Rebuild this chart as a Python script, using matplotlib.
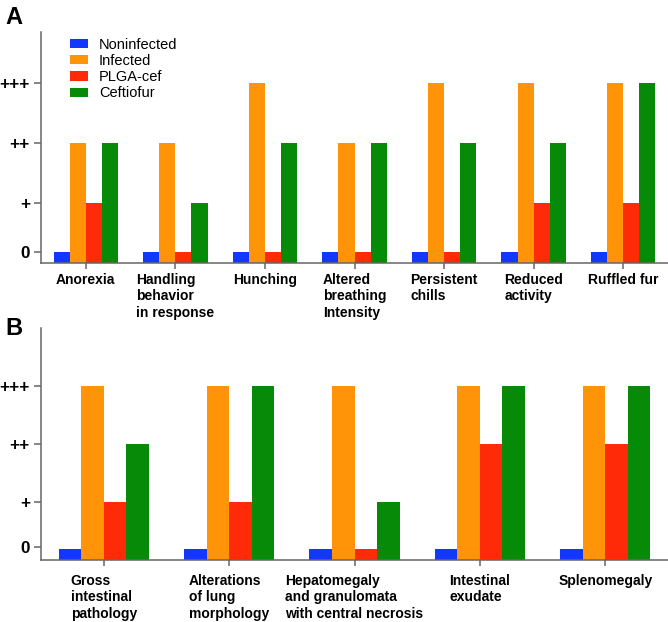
import matplotlib
matplotlib.use("Agg")
import matplotlib.pyplot as plt
import numpy as np

plt.rcParams['font.family'] = ['Liberation Sans', 'DejaVu Sans']

# dados
series = ['Noninfected', 'Infected', 'PLGA-cef', 'Ceftiofur']
colors = ['#1238ff', '#ff9408', '#ff2a08', '#068a08']

cats_a = ['Anorexia', 'Handling\nbehavior\nin response', 'Hunching',
          'Altered\nbreathing\nIntensity', 'Persistent\nchills',
          'Reduced\nactivity', 'Ruffled fur']
noninf_a = [0, 0, 0, 0, 0, 0, 0]
infected_a = [2, 2, 3, 2, 3, 3, 3]
plga_a = [1, 0, 0, 0, 0, 1, 1]
ceft_a = [2, 1, 2, 2, 2, 2, 3]

cats_b = ['Gross\nintestinal\npathology', 'Alterations\nof lung\nmorphology',
          'Hepatomegaly\nand granulomata\nwith central necrosis',
          'Intestinal\nexudate', 'Splenomegaly']
noninf_b = [0, 0, 0, 0, 0]
infected_b = [3, 3, 3, 3, 3]
plga_b = [1, 1, 0, 2, 2]
ceft_b = [2, 3, 1, 3, 3]

score_labels = ['0', '+', '++', '+++']

ZERO_STUB = 0.19  # barras de escore 0 aparecem como um toco
W = 0.18

fig = plt.figure(figsize=(6.68, 6.22), dpi=100)
ax_a = fig.add_axes([41/668, 1 - 263/622, 627/668, 231/622])
ax_b = fig.add_axes([41/668, 1 - 560/622, 627/668, 232/622])


def draw(ax, cats, data, ytop, zero_tick, label_pad):
    x = np.arange(len(cats))
    for i, (vals, c, name) in enumerate(zip(data, colors, series)):
        v = np.array(vals, dtype=float)
        h = np.where(v == 0, ZERO_STUB, v)
        ax.bar(x + (i - 1.5) * W, h, W, color=c, label=name, linewidth=0)
    ax.set_xlim(-0.5, len(cats) - 0.5)
    ax.set_ylim(0, ytop)
    ax.set_yticks([zero_tick, 1, 2, 3])
    ax.set_yticklabels(score_labels, fontsize=12.3, fontweight='bold')
    ax.set_xticks(x)
    ax.set_xticklabels(cats, fontsize=10, fontweight='bold',
                       linespacing=1.22, multialignment='left')
    for s in ['top', 'right']:
        ax.spines[s].set_visible(False)
    for s in ['left', 'bottom']:
        ax.spines[s].set_color('#666666')
        ax.spines[s].set_linewidth(1.1)
    ax.tick_params(axis='y', length=5, width=1.1, color='#666666', pad=3)
    ax.tick_params(axis='x', length=4, width=1.1, color='#666666', pad=label_pad)


draw(ax_a, cats_a, [noninf_a, infected_a, plga_a, ceft_a], 3.85, 0.19, 3)
draw(ax_b, cats_b, [noninf_b, infected_b, plga_b, ceft_b], 4.0, 0.22, 6)

ax_a.legend(loc='upper left', bbox_to_anchor=(0.046, 0.975), frameon=False,
            fontsize=10.5, handlelength=1.25, handleheight=0.6,
            handletextpad=0.75, labelspacing=0.15, borderpad=0,
            borderaxespad=0)

fig.text(0.008, 1 - 6/622, 'A', fontsize=17, fontweight='bold', va='top')
fig.text(0.008, 1 - 317/622, 'B', fontsize=17, fontweight='bold', va='top')

fig.savefig('out.png', dpi=100)
